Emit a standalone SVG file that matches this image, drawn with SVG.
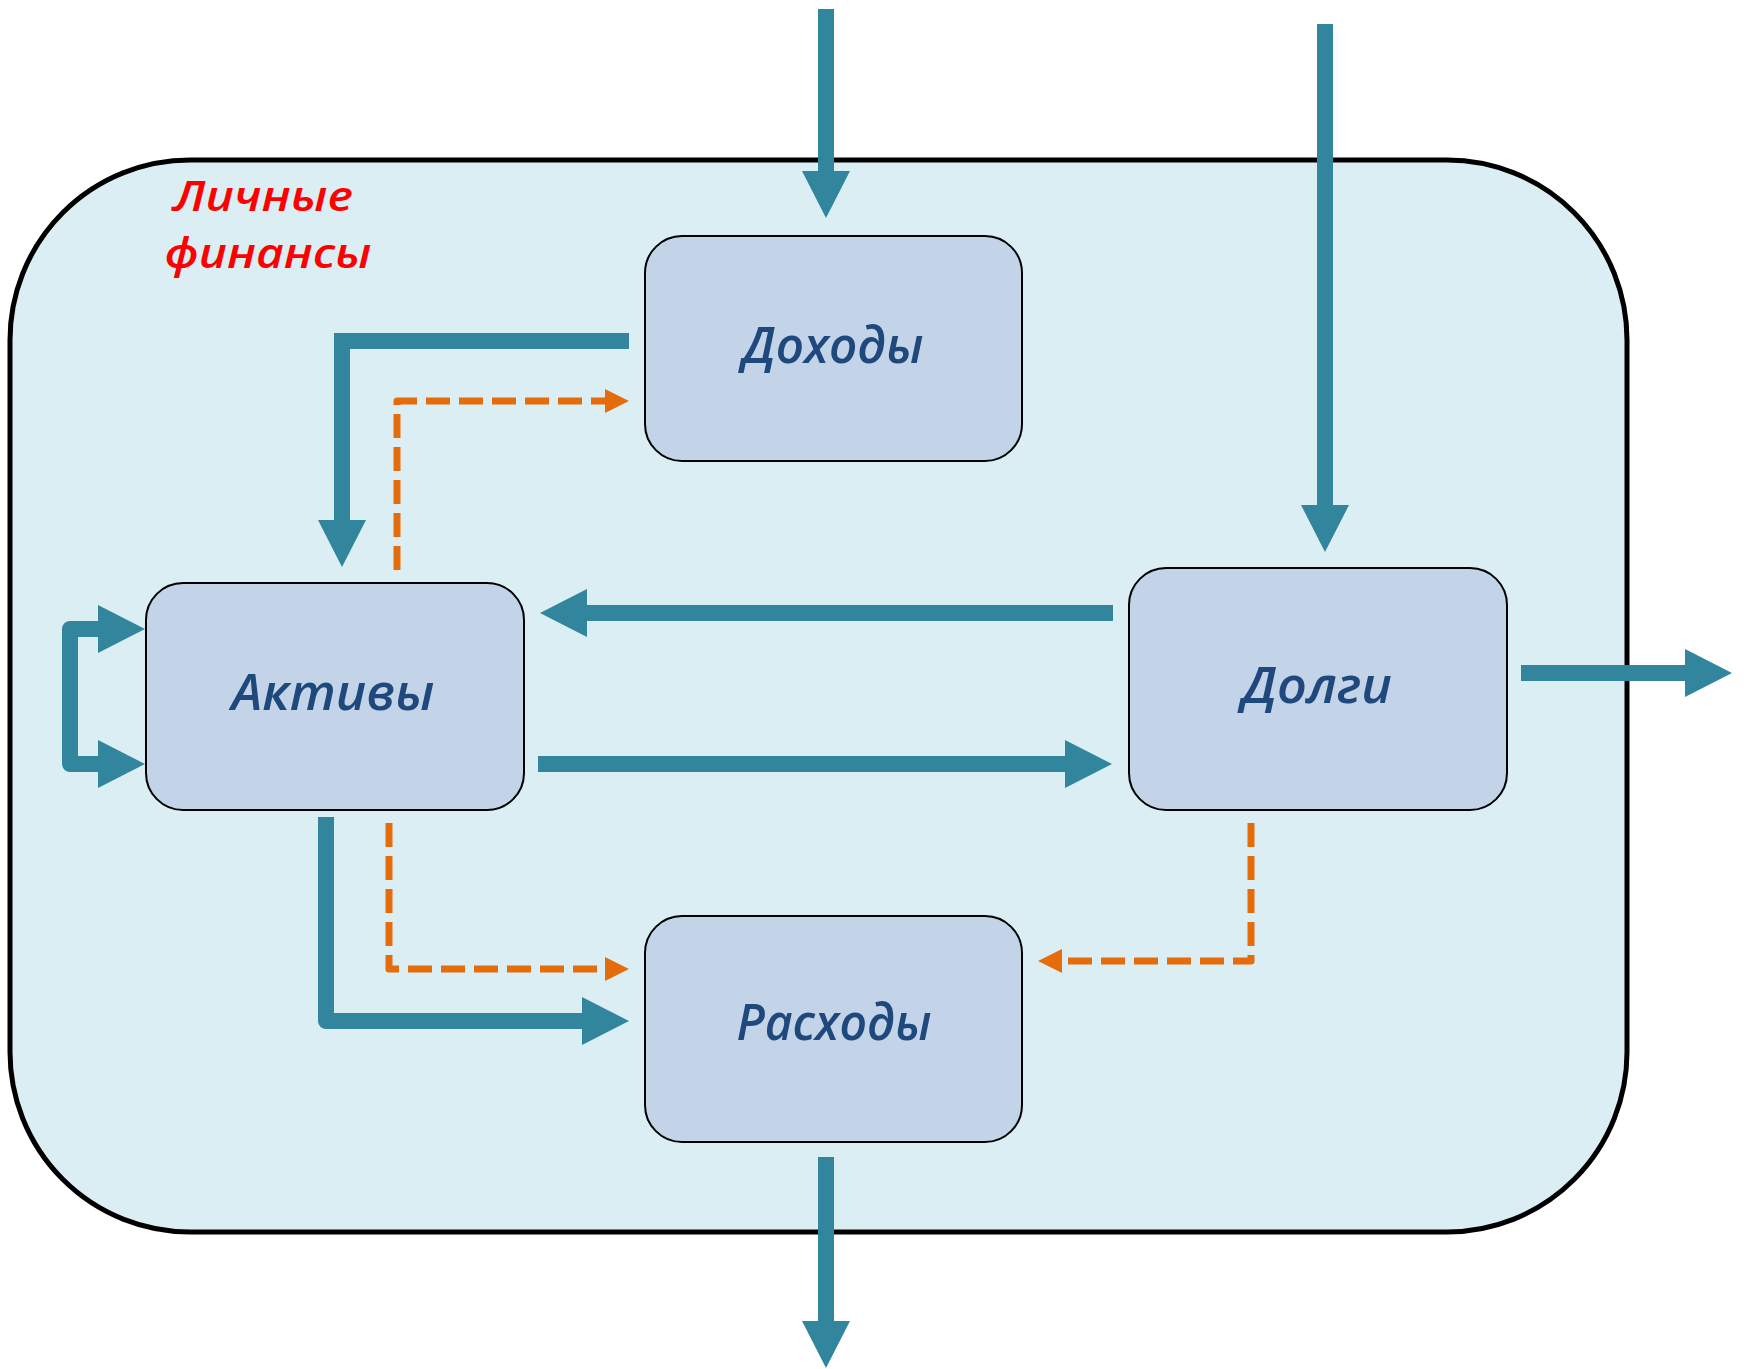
<svg xmlns="http://www.w3.org/2000/svg" width="1744" height="1369" viewBox="0 0 1744 1369">
<style>
.outer{fill:#DBEEF4;stroke:#000;stroke-width:5}
.box{fill:#C3D3E8;stroke:#000;stroke-width:2}
.lbl{font-family:"Open Sans","Noto Sans","DejaVu Sans",sans-serif;font-style:italic;font-weight:600;font-size:50px;fill:#1F497D;text-anchor:middle}
.title{font-family:"Open Sans","Noto Sans","DejaVu Sans",sans-serif;font-style:italic;font-weight:600;font-size:41px;fill:#FF0000;text-anchor:middle}
.flow{fill:none;stroke:#31859C;stroke-width:16;stroke-linejoin:round;marker-end:url(#ah)}
.dash{fill:none;stroke:#E46C0A;stroke-width:7;stroke-dasharray:24 9;stroke-linejoin:round;marker-end:url(#oh)}
</style>
<defs>
<marker id="ah" markerUnits="userSpaceOnUse" markerWidth="48" markerHeight="48" refX="0" refY="24" orient="auto-start-reverse" viewBox="0 0 48 48">
<path d="M0,0 L47,24 L0,48 Z" fill="#31859C"/>
</marker>
<marker id="oh" markerUnits="userSpaceOnUse" markerWidth="25" markerHeight="24" refX="0" refY="12" orient="auto" viewBox="0 0 25 24">
<path d="M0,0 L24,12 L0,24 Z" fill="#E46C0A"/>
</marker>
</defs>
<g id="container">
<rect class="outer" x="10" y="160" width="1617" height="1072" rx="180" ry="180"/>
<text class="title" x="263" y="211" textLength="180" lengthAdjust="spacingAndGlyphs">Личные</text>
<text class="title" x="268" y="268" textLength="207" lengthAdjust="spacingAndGlyphs">финансы</text>
</g>
<g id="node-dohody">
<rect class="box" x="645" y="236" width="377" height="225" rx="37" ry="37"/>
<text class="lbl" x="833" y="363" textLength="181" lengthAdjust="spacingAndGlyphs">Доходы</text>
</g>
<g id="node-aktivy">
<rect class="box" x="146" y="583" width="378" height="227" rx="37" ry="37"/>
<text class="lbl" x="333" y="710" textLength="203" lengthAdjust="spacingAndGlyphs">Активы</text>
</g>
<g id="node-dolgi">
<rect class="box" x="1129" y="568" width="378" height="242" rx="37" ry="37"/>
<text class="lbl" x="1317" y="703" textLength="150" lengthAdjust="spacingAndGlyphs">Долги</text>
</g>
<g id="node-rashody">
<rect class="box" x="645" y="916" width="377" height="226" rx="37" ry="37"/>
<text class="lbl" x="834" y="1040" textLength="195" lengthAdjust="spacingAndGlyphs">Расходы</text>
</g>
<g id="connectors">
<path class="flow" d="M826,9 V171"/>
<path class="flow" d="M1325,24 V505"/>
<path class="flow" d="M629,341 H342 V520" style="stroke-linejoin:miter"/>
<path class="flow" d="M1113,613 H587"/>
<path class="flow" d="M538,764 H1065"/>
<path class="flow" d="M1521,673 H1685"/>
<path class="flow" d="M98,629 H70 V764 H98" style="marker-start:url(#ah)"/>
<path class="flow" d="M326,817 V1021 H582"/>
<path class="flow" d="M826,1157 V1321"/>
<path class="dash" d="M397,570 V401 H605"/>
<path class="dash" d="M389,823 V969 H605"/>
<path class="dash" d="M1251,823 V961 H1062"/>
</g>
</svg>
